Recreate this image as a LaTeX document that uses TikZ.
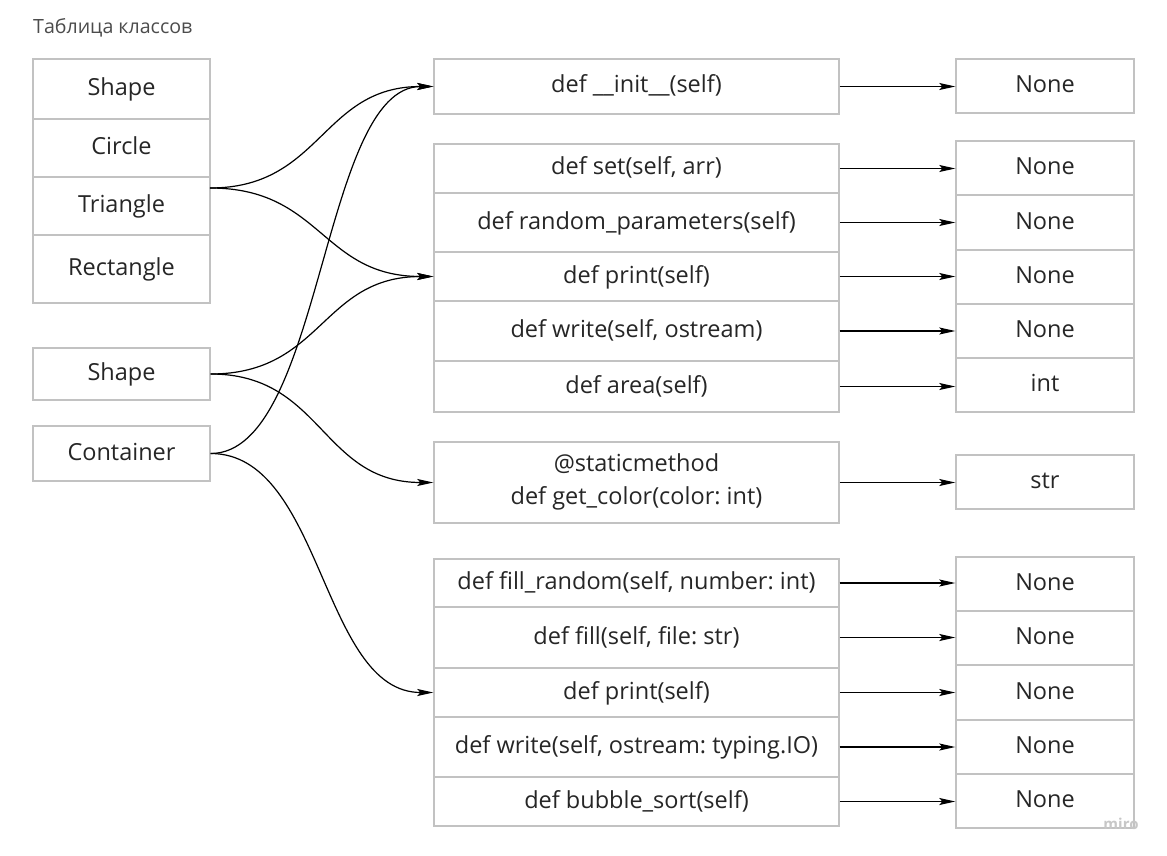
\documentclass[tikz,border=0pt]{standalone}
\usepackage{fontspec}
\setmainfont{Open Sans}
\usetikzlibrary{arrows.meta}
\definecolor{edge}{HTML}{C2C2C2}
\definecolor{ink}{HTML}{262626}
\frenchspacing
\begin{document}
\begin{tikzpicture}[x=1pt,y=-1pt,
  cell/.style={draw=edge, line width=1.4pt, fill=white, inner sep=0pt, text=ink,
    font=\fontsize{23.5}{28}\selectfont, text height=13pt, text depth=0pt},
  box/.style 2 args={cell, minimum width=#1pt, minimum height=#2pt},
  conn/.style={draw=black, line width=1.2pt, -{Stealth[length=16pt,width=7pt,inset=3pt]}},
  ret/.style={draw=black, line width=1.2pt, -{Stealth[length=16pt,width=7pt,inset=3pt]}},
]
\useasboundingbox[fill=white] (0,0) rectangle (1167,856);

% heading
\node[anchor=base west, inner sep=0pt, text=black!70, font=\fontsize{19.6}{22}\selectfont] (title) at (33,34) {Таблица классов};

% class list
\node[box={177}{60}] (cShape) at (121.5,89) {Shape};
\node[box={177}{58}] (cCircle) at (121.5,148) {Circle};
\node[box={177}{58}] (cTriangle) at (121.5,206) {Triangle};
\node[box={177}{68}] (cRect) at (121.5,269) {Rectangle};

% base classes
\node[box={177}{52}] (shape) at (121.5,374) {Shape};
\node[box={177}{55}] (container) at (121.5,453.5) {Container};

% methods
\node[box={405}{55}] (init) at (636.5,86.5) {def \_\_init\_\_(self)};

\node[box={405}{49}] (set) at (636.5,168.5) {def set(self, arr)};
\node[box={405}{59}] (rand) at (636.5,222.5) {def random\_parameters(self)};
\node[box={405}{49}] (print) at (636.5,276.5) {def print(self)};
\node[box={405}{60}] (write) at (636.5,331) {def write(self, ostream)};
\node[box={405}{51}] (area) at (636.5,386.5) {def area(self)};

\node[box={405}{81}] (getcolor) at (636.5,482.5) {};
\node[anchor=base, inner sep=0pt, text=ink, font=\fontsize{23.5}{28}\selectfont] (gcA) at (636.5,471.5) {@staticmethod};
\node[anchor=base, inner sep=0pt, text=ink, font=\fontsize{23.5}{28}\selectfont] (gcB) at (636.5,504.5) {def get\_color(color: int)};

\node[box={405}{48}] (fillrand) at (636.5,583) {def fill\_random(self, number: int)};
\node[box={405}{61}] (fill) at (636.5,637.5) {def fill(self, file: str)};
\node[box={405}{49}] (print2) at (636.5,692.5) {def print(self)};
\node[box={405}{60}] (write2) at (636.5,747) {def write(self, ostream: typing.IO)};
\node[box={405}{49}] (bubble) at (636.5,801.5) {def bubble\_sort(self)};

% return types
\node[box={178}{54}] (r0) at (1045,86) {None};

\node[box={178}{54}] (r1) at (1045,168) {None};
\node[box={178}{55}] (r2) at (1045,222.5) {None};
\node[box={178}{54}] (r3) at (1045,277) {None};
\node[box={178}{54}] (r4) at (1045,331) {None};
\node[box={178}{54}] (r5) at (1045,385) {int};

\node[box={178}{54}] (rs) at (1045,482) {str};

\node[box={178}{54}] (r6) at (1045,584) {None};
\node[box={178}{54}] (r7) at (1045,638) {None};
\node[box={178}{55}] (r8) at (1045,692.5) {None};
\node[box={178}{54}] (r9) at (1045,747) {None};
\node[box={178}{54}] (r10) at (1045,801) {None};

% method -> return type
\foreach \m/\r in {init/r0, set/r1, rand/r2, print/r3, write/r4, area/r5,
                   getcolor/rs, fillrand/r6, fill/r7, print2/r8, write2/r9, bubble/r10}
  \draw[ret] (\m.east) -- (\m.east -| \r.west);

% class -> method
\coordinate (triport) at (210,188);
\draw[conn] (triport) .. controls +(112,0) and +(-112,0) .. (init.west);
\draw[conn] (triport) .. controls +(112,0) and +(-112,0) .. (print.west);
\draw[conn] (shape.east) .. controls +(112,0) and +(-112,0) .. (print.west);
\draw[conn] (shape.east) .. controls +(112,0) and +(-112,0) .. (getcolor.west);
\draw[conn] (container.east) .. controls +(112,0) and +(-112,0) .. (init.west);
\draw[conn] (container.east) .. controls +(112,0) and +(-112,0) .. (print2.west);

% watermark
\node[anchor=base, inner sep=0pt, text=black!22, font=\fontsize{15}{15}\selectfont\bfseries] (wm) at (1121,829) {miro};
\end{tikzpicture}
\end{document}
